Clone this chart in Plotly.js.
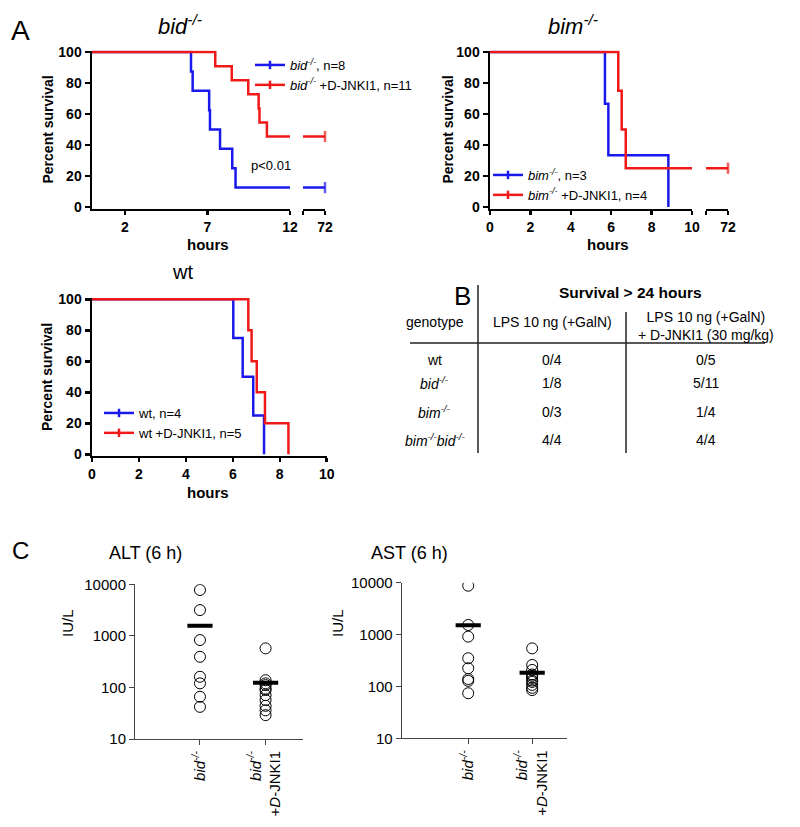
<!DOCTYPE html>
<html><head><meta charset="utf-8">
<script src="https://cdn.plot.ly/plotly-3.0.1.min.js"></script>
<style>html,body{margin:0;padding:0;background:#fff}</style>
</head><body><div id="chart" style="width:800px;height:827px"></div>
<script>
// ---------- data ----------
// Panel A, bid-/-
const bidHours      = [0, 6.0, 6.1, 7.1, 7.15, 7.76, 8.5, 8.7, 12];
const bidSurv       = [100, 87.5, 75, 62.5, 50, 37.5, 25, 12.5, 12.5];
const bidJnkHours   = [0, 7.47, 8.47, 9.47, 10.1, 10.15, 10.6, 12];
const bidJnkSurv    = [100, 90.9, 81.8, 72.7, 63.6, 54.5, 45.5, 45.5];
const lateHours     = [70, 72];
const bidLateSurv   = [12.5, 12.5];
const bidJnkLateSurv= [45.5, 45.5];
// Panel A, bim-/-
const bimHours      = [0, 5.69, 5.86, 8.83];
const bimSurv       = [100, 66.7, 33.3, 0];
const bimJnkHours   = [0, 6.35, 6.52, 6.72, 10];
const bimJnkSurv    = [100, 75, 50, 25, 25];
const bimJnkLateSurv= [25, 25];
// Panel A, wt
const wtHours       = [0, 6.02, 6.42, 6.87, 7.33];
const wtSurv        = [100, 75, 50, 25, 0];
const wtJnkHours    = [0, 6.66, 6.8, 7.02, 7.37, 8.37];
const wtJnkSurv     = [100, 80, 60, 40, 20, 0];
// Panel B table
const tableGenotypes = ['wt', '<i>bid</i><sup><i>-/-</i></sup>', '<i>bim</i><sup><i>-/-</i></sup>', '<i>bim</i><sup><i>-/-</i></sup><i>bid</i><sup><i>-/-</i></sup>'];
const tableLps       = ['0/4', '1/8', '0/3', '4/4'];
const tableLpsJnk    = ['0/5', '5/11', '1/4', '4/4'];
// Panel C
const groupLabels = ['<i>bid</i><sup><i>-/-</i></sup>', '<i>bid</i><sup><i>-/-</i></sup><br>+<i>D</i>-JNKI1'];
const altBid    = [7760, 3160, 830, 393, 161, 120, 66, 42];
const altBidJnk = [572, 138, 120, 111, 95, 89, 71, 57, 44, 36, 29];
const astBid    = [8750, 1530, 912, 349, 224, 139, 128, 74];
const astBidJnk = [542, 260, 208, 170, 160, 146, 130, 122, 107, 94, 85];

// ---------- helpers ----------
const W = 800, H = 827;
const px = v => v / W, py = v => 1 - v / H;
const FONT = 'Liberation Sans, Arial, sans-serif';
const BLUE = 'rgb(25,25,235)', RED = 'rgb(240,25,25)';
const mean = a => a.reduce((s, v) => s + v, 0) / a.length;

function step(x, y, xa, ya, color) {
  return {x, y, xaxis: xa, yaxis: ya, mode: 'lines', line: {shape: 'hv', color, width: 2.5},
          showlegend: false, hoverinfo: 'skip'};
}
function late(x, y, xa, ya, color) {
  return {x, y, xaxis: xa, yaxis: ya, mode: 'lines+markers', line: {color, width: 2.5},
          marker: {symbol: 'line-ns', size: [0, 8], line: {color, width: 2.5}},
          cliponaxis: false, showlegend: false, hoverinfo: 'skip'};
}
function legendItem(name, color, legend, xa, ya) {
  return {x: [null], y: [null], xaxis: xa, yaxis: ya, name, legend, mode: 'lines+markers',
          line: {color, width: 2.5}, marker: {symbol: 'line-ns', size: 6, line: {color, width: 2.5}}};
}
function dots(vals, pos, xa, ya) {
  return {x: vals.map(() => pos), y: vals, xaxis: xa, yaxis: ya, mode: 'markers',
          marker: {symbol: 'circle-open', size: 11, color: 'black', line: {width: 1, color: 'black'}},
          showlegend: false, hoverinfo: 'skip'};
}
function meanBar(vals, pos, xa, ya) {
  return {x: [pos], y: [mean(vals)], xaxis: xa, yaxis: ya, mode: 'markers',
          marker: {symbol: 'line-ew', size: 18, color: 'black', line: {width: 4, color: 'black'}},
          showlegend: false, hoverinfo: 'skip'};
}

const traces = [
  step(bidHours, bidSurv, 'x', 'y', BLUE),
  step(bidJnkHours, bidJnkSurv, 'x', 'y', RED),
  late(lateHours, bidLateSurv, 'x2', 'y', BLUE),
  late(lateHours, bidJnkLateSurv, 'x2', 'y', RED),
  legendItem('<i>bid</i><sup><i>-/-</i></sup>, n=8', BLUE, 'legend', 'x', 'y'),
  legendItem('<i>bid</i><sup><i>-/-</i></sup> +D-JNKI1, n=11', RED, 'legend', 'x', 'y'),

  step(bimHours, bimSurv, 'x3', 'y2', BLUE),
  step(bimJnkHours, bimJnkSurv, 'x3', 'y2', RED),
  late(lateHours, bimJnkLateSurv, 'x4', 'y2', RED),
  legendItem('<i>bim</i><sup><i>-/-</i></sup>, n=3', BLUE, 'legend2', 'x3', 'y2'),
  legendItem('<i>bim</i><sup><i>-/-</i></sup> +D-JNKI1, n=4', RED, 'legend2', 'x3', 'y2'),

  step(wtHours, wtSurv, 'x5', 'y3', BLUE),
  step(wtJnkHours, wtJnkSurv, 'x5', 'y3', RED),
  legendItem('wt, n=4', BLUE, 'legend3', 'x5', 'y3'),
  legendItem('wt +D-JNKI1, n=5', RED, 'legend3', 'x5', 'y3'),

  dots(altBid, 1, 'x6', 'y4'), dots(altBidJnk, 2, 'x6', 'y4'),
  meanBar(altBid, 1, 'x6', 'y4'), meanBar(altBidJnk, 2, 'x6', 'y4'),
  dots(astBid, 1, 'x7', 'y5'), dots(astBidJnk, 2, 'x7', 'y5'),
  meanBar(astBid, 1, 'x7', 'y5'), meanBar(astBidJnk, 2, 'x7', 'y5'),
];

const survTick = {family: FONT, size: 14, color: 'black', weight: 'bold'};
const survX = (domain, range, anchor, extra) => Object.assign({
  domain, range, anchor, showline: true, linecolor: 'black', linewidth: 2.5,
  ticks: 'outside', ticklen: 4, tickwidth: 2.5, tickcolor: 'black',
  showgrid: false, zeroline: false, tickfont: survTick, fixedrange: true
}, extra);
const survY = (domain, anchor) => ({
  domain, range: [-1, 101], anchor, showline: true, linecolor: 'black', linewidth: 2.5,
  ticks: 'outside', ticklen: 5, tickwidth: 2.5, tickcolor: 'black',
  tickvals: [0, 20, 40, 60, 80, 100], showgrid: false, zeroline: false, tickfont: survTick, fixedrange: true
});
const cX = (domain, range, anchor) => ({
  domain, range, anchor, showline: true, linecolor: '#444', linewidth: 1,
  ticks: 'outside', ticklen: 5, tickcolor: '#444', tickvals: [1, 2], ticktext: groupLabels,
  tickangle: -90, showgrid: false, zeroline: false,
  tickfont: {family: FONT, size: 15, color: 'black'}
});
const cY = (domain, anchor) => ({
  domain, type: 'log', range: [1, 4], anchor, showline: true, linecolor: '#444', linewidth: 1,
  ticks: 'outside', ticklen: 5, tickcolor: '#444', tickvals: [10, 100, 1000, 10000],
  ticktext: ['10', '100', '1000', '10000'], showgrid: false, zeroline: false,
  tickfont: {family: FONT, size: 15, color: 'black'}
});

const ann = (text, x, y, size, opts) => Object.assign({
  text, x: px(x), y: py(y), xref: 'paper', yref: 'paper', showarrow: false,
  xanchor: 'center', yanchor: 'middle', font: {family: FONT, size, color: 'black'}
}, opts || {});
const bold = (s) => ({family: FONT, size: s, color: 'black', weight: 'bold'});

const annotations = [
  ann('A', 20, 30, 28), ann('B', 462, 296, 26), ann('C', 20, 550, 24),
  ann('<i>bid</i><sup><i>-/-</i></sup>', 180, 25, 22),
  ann('<i>bim</i><sup><i>-/-</i></sup>', 573, 25, 22),
  ann('wt', 182, 272, 20),
  ann('Percent survival', 47, 129.5, 14, {textangle: -90, font: bold(14)}),
  ann('Percent survival', 447, 129.5, 14, {textangle: -90, font: bold(14)}),
  ann('Percent survival', 47, 377, 14, {textangle: -90, font: bold(14)}),
  ann('hours', 208, 244, 15, {font: bold(15)}),
  ann('hours', 608, 244, 15, {font: bold(15)}),
  ann('hours', 208, 492, 15, {font: bold(15)}),
  ann('p<0.01', 271, 165, 13),
  // table
  ann('Survival > 24 hours', 630, 292, 15.5, {font: bold(15.5)}),
  ann('genotype', 435, 322, 14),
  ann('LPS 10 ng (+GalN)', 552, 322, 14),
  ann('LPS 10 ng (+GalN)<br>+ D-JNKI1 (30 mg/kg)', 706, 326, 14),
  // panel C
  ann('ALT (6 h)', 145, 553, 18), ann('AST (6 h)', 410, 553, 18),
  ann('IU/L', 67, 623, 15, {textangle: -90}), ann('IU/L', 337, 623, 15, {textangle: -90}),
];
const rowY = [360, 382.5, 411.5, 440];
tableGenotypes.forEach((g, i) => {
  annotations.push(ann(g, 435, rowY[i], 14));
  annotations.push(ann(tableLps[i], 552, rowY[i], 14));
  annotations.push(ann(tableLpsJnk[i], 706, rowY[i], 14));
});

const line = (x0, y0, x1, y1) => ({type: 'line', xref: 'paper', yref: 'paper',
  x0: px(x0), y0: py(y0), x1: px(x1), y1: py(y1), line: {color: '#222', width: 1.5}});

const legendBase = {bgcolor: 'rgba(0,0,0,0)', font: {family: FONT, size: 13, color: 'black'},
  xref: 'paper', yref: 'paper', xanchor: 'left', yanchor: 'top', borderwidth: 0, tracegroupgap: 0};

const layout = {
  width: W, height: H, margin: {l: 0, r: 0, t: 0, b: 0},
  paper_bgcolor: 'white', plot_bgcolor: 'rgba(0,0,0,0)',
  font: {family: FONT, color: 'black'},
  showlegend: true,
  legend:  Object.assign({}, legendBase, {x: px(250), y: py(50)}),
  legend2: Object.assign({}, legendBase, {x: px(488), y: py(160)}),
  legend3: Object.assign({}, legendBase, {x: px(99), y: py(398)}),
  xaxis:  survX([px(92), px(290)], [0, 12], 'y', {tickvals: [2, 7, 12]}),
  xaxis2: survX([px(303), px(325)], [70, 72], 'y', {tickvals: [70, 72], ticktext: ['', '72']}),
  yaxis:  survY([py(208.5), py(50.5)], 'x'),
  xaxis3: survX([px(490), px(692)], [0, 10], 'y2', {tickvals: [0, 2, 4, 6, 8, 10]}),
  xaxis4: survX([px(706), px(728)], [70, 72], 'y2', {tickvals: [70, 72], ticktext: ['', '72']}),
  yaxis2: survY([py(208.5), py(50.5)], 'x3'),
  xaxis5: survX([px(92), px(326.7)], [0, 10], 'y3', {tickvals: [0, 2, 4, 6, 8, 10]}),
  yaxis3: survY([py(455.8), py(297.8)], 'x5'),
  xaxis6: cX([px(135), px(303)], [0.01, 2.57], 'y4'),
  yaxis4: cY([py(739), py(584.3)], 'x6'),
  xaxis7: cX([px(401.7), px(566.7)], [-0.04, 2.54], 'y5'),
  yaxis5: cY([py(738.3), py(582.7)], 'x7'),
  annotations,
  shapes: [line(478, 285, 478, 453), line(626, 312, 626, 453), line(410, 343, 765, 343)]
};

Plotly.newPlot('chart', traces, layout, {staticPlot: true});
</script></body></html>
